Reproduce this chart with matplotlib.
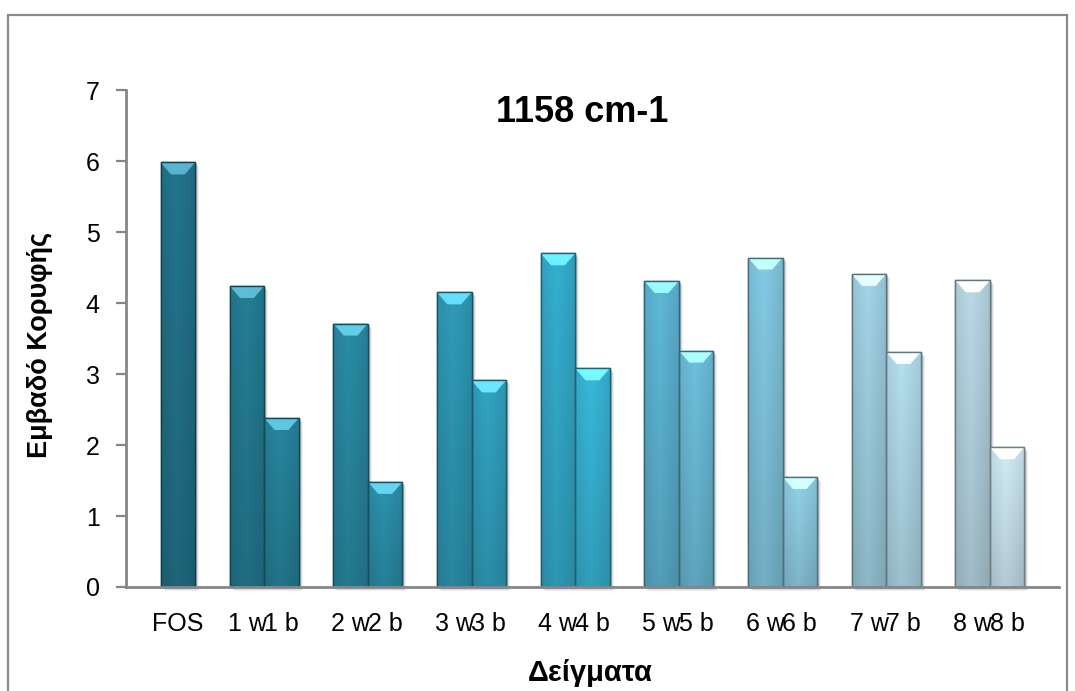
import numpy as np
import matplotlib
matplotlib.use("Agg")
import matplotlib.pyplot as plt
from matplotlib.patches import Rectangle, Polygon
from matplotlib import transforms as mtransforms
from matplotlib.colors import to_rgb

# Peak area at 1158 cm-1 per sample
labels = ["FOS", "1 w", "1 b", "2 w", "2 b", "3 w", "3 b", "4 w", "4 b",
          "5 w", "5 b", "6 w", "6 b", "7 w", "7 b", "8 w", "8 b"]
values = [5.98, 4.24, 2.38, 3.71, 1.48, 4.15, 2.91, 4.70, 3.08,
          4.31, 3.33, 4.64, 1.55, 4.41, 3.31, 4.32, 1.97]

title = "1158 cm-1"
xlabel = "Δείγματα"
ylabel = "Εμβαδό Κορυφής"
yticks = [0, 1, 2, 3, 4, 5, 6, 7]

bar_colors = ["#22728a",
              "#247b92", "#26839b", "#2989a2", "#2b90aa",
              "#2e98b4", "#31a0be", "#34aaca", "#38b3d4",
              "#5cb3d2", "#6abbd7", "#80c5de", "#8ecce3",
              "#9ecfe1", "#b0dae9", "#b5d4e1", "#cbe6f0"]

plt.rcParams["font.family"] = ["Liberation Sans", "DejaVu Sans"]

W, H = 1075, 691
fig = plt.figure(figsize=(W / 100, H / 100), dpi=100)
fig.patch.set_facecolor("white")

# outer chart frame
fig.patches.append(Rectangle((8 / W, -0.05), (1067 - 8) / W, (H - 15) / H + 0.05,
                             transform=fig.transFigure, facecolor="none",
                             edgecolor="#8a8a8a", linewidth=1.6))

ax = fig.add_axes([126 / W, 1 - 587 / H, (1059 - 126) / W, (587 - 90) / H])

# slot layout: blank, FOS, blank, then (w, b, blank) for each sample
slots = [1]
for k in range(8):
    slots += [3 + 3 * k, 4 + 3 * k]
n_slots = 27

ax.set_xlim(0, n_slots)
ax.set_ylim(0, 7)

px_per_unit = (587 - 90) / 7.0
bevel_h = 12 / px_per_unit


def shade(c, f):
    r = np.array(to_rgb(c)) * f
    return tuple(np.clip(r, 0, 1))


def lighten(c, f):
    r = np.array(to_rgb(c))
    return tuple(r + (1 - r) * f)


def bright(c):
    r = np.clip(np.array(to_rgb(c)) * 1.4, 0, 1)
    return tuple(r + (1 - r) * 0.2)


for s, v, c in zip(slots, values, bar_colors):
    x0, x1 = s, s + 1
    # soft shadow
    for i, a in enumerate([0.12, 0.09, 0.06]):
        tr = mtransforms.offset_copy(ax.transData, fig=fig, x=2 + i, y=-2 - i, units="dots")
        ax.add_patch(Rectangle((x0, 0), 1, v, transform=tr, facecolor="black",
                               alpha=a, edgecolor="none", zorder=1.5, clip_on=False))
    bar = ax.bar(s + 0.5, v, width=1.0, color=c, edgecolor=shade(c, 0.55),
                 linewidth=1.0, zorder=2)[0]
    # body gradient: darker toward bottom and at the sides
    ny, nx = 60, 24
    vy = np.linspace(1.0, 0.86, ny)[:, None]
    xx = np.linspace(0, 1, nx)[None, :]
    hx = 1.03 - 0.10 * np.abs(xx - 0.45) / 0.55
    f = vy * hx
    img = np.clip(np.array(to_rgb(c))[None, None, :] * f[:, :, None], 0, 1)
    im = ax.imshow(img, extent=(x0, x1, 0, v), aspect="auto", origin="upper",
                   zorder=2.1, interpolation="bilinear")
    im.set_clip_path(bar)
    # top bevel
    d = 0.30
    ax.add_patch(Polygon([(x0, v), (x1, v), (x1 - d, v - bevel_h), (x0 + d, v - bevel_h)],
                         closed=True, facecolor=bright(c), edgecolor="none",
                         zorder=2.2))
    ax.add_patch(Rectangle((x0, 0), 1, v, facecolor="none",
                           edgecolor=shade(c, 0.55), linewidth=1.0, zorder=2.3))

ax.set_xlim(0, n_slots)
ax.set_ylim(0, 7)

ax.set_xticks([s + 0.5 for s in slots])
ax.set_xticklabels(labels, fontsize=18)
ax.set_yticks(yticks)
ax.set_yticklabels([str(t) for t in yticks], fontsize=18)
ax.tick_params(axis="x", length=0, pad=18)
ax.tick_params(axis="y", length=7, width=1.6, color="#868686", pad=12, direction="out")

for side in ["top", "right"]:
    ax.spines[side].set_visible(False)
for side in ["left", "bottom"]:
    ax.spines[side].set_color("#868686")
    ax.spines[side].set_linewidth(2.0)
    ax.spines[side].set_zorder(3)
ax.set_facecolor("none")

fig.text(582 / W, 1 - 112 / H, title, fontsize=26, fontweight="bold",
         ha="center", va="center")
fig.text(590 / W, 1 - 673 / H, xlabel, fontsize=21, fontweight="bold",
         ha="center", va="center")
fig.text(40 / W, 1 - 345 / H, ylabel, fontsize=19.5, fontweight="bold",
         ha="center", va="center", rotation=90)

fig.savefig("out.png", dpi=100)
